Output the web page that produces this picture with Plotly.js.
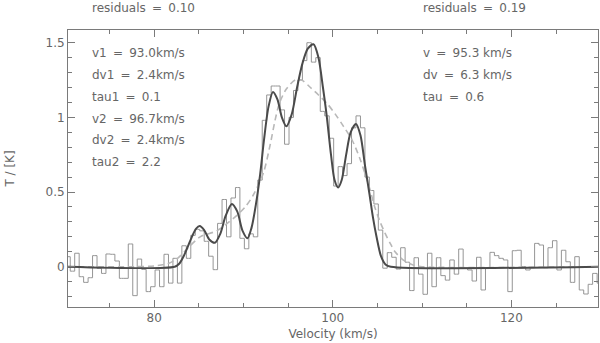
<!DOCTYPE html>
<html>
<head>
<meta charset="utf-8">
<script src="https://cdn.plot.ly/plotly-3.0.1.min.js"></script>
<style>
  html, body { margin: 0; padding: 0; background: #fff; }
  #chart { width: 600px; height: 343px; }
</style>
</head>
<body>
<div id="chart"></div>
<script>
// ---- data ----
// spectrum channels: first channel centre and channel width (km/s)
const velStart = 70.35;
const chanWidth = 0.5;
// observed brightness temperature per channel (K)
const tObs = [
  0.067, -0.03, 0.09, -0.067, -0.105, -0.074, 0.074, -0.011, -0.045, 0.085,
  0.083, 0.038, -0.078, -0.078, 0.152, -0.194, 0.051, -0.018, -0.167, -0.134,
  -0.022, -0.134, 0.083, -0.11, 0.056, -0.11, 0.14, 0.056, 0.21, 0.25,
  0.24, 0.17, 0.07, -0.02, 0.29, 0.45, 0.2, 0.46, 0.53, 0.19,
  0.12, 0.22, 0.2, 0.58, 0.98, 1.15, 1.21, 1.21, 1.05, 0.82,
  1.0, 1.18, 1.25, 1.38, 1.50, 1.37, 1.40, 1.04, 1.01, 0.86,
  0.54, 0.67, 0.61, 0.69, 0.93, 1.01, 0.93, 0.60, 0.51, 0.42,
  0.245, -0.01, 0.094, 0.063, -0.016, 0.127, 0.03, -0.16, 0.06, -0.05,
  -0.185, 0.09, -0.134, 0.06, -0.06, -0.09, 0.045, -0.05, 0.118, -0.01,
  -0.022, -0.096, 0.063, -0.156, -0.01, 0.096, 0.074, 0.056, 0.045, -0.167,
  0.107, 0.11, 0, -0.022, -0.007, 0.156, 0.145, -0.007, 0.127, 0.174,
  -0.022, 0.11, 0.033, -0.105, 0.067, -0.156, -0.183, -0.118, -0.045, -0.11
];

// two-component fit (solid curve)
const fit2Vel = [70.35, 82.3, 82.8, 83.3, 83.8, 84.3, 84.7, 85.1, 85.6, 86.2,
  86.8, 87.4, 88.0, 88.7, 89.3, 89.9, 90.45, 90.9, 91.4, 91.87,
  92.3, 92.8, 93.3, 93.8, 94.3, 94.8, 95.4, 96.0, 96.6, 97.2,
  97.84, 98.4, 98.9, 99.3, 99.8, 100.2, 100.6, 101.0, 101.5, 102.0,
  102.6, 103.1, 103.6, 104.1, 104.5, 104.9, 105.4, 105.9, 106.5, 129.7];
const fit2T = [0, 0, 0.02, 0.07, 0.14, 0.21, 0.255, 0.272, 0.245, 0.18,
  0.16, 0.22, 0.34, 0.42, 0.37, 0.24, 0.19, 0.26, 0.42, 0.62,
  0.85, 1.07, 1.17, 1.12, 1.0, 0.94, 1.02, 1.2, 1.36, 1.46,
  1.49, 1.40, 1.2, 1.02, 0.75, 0.58, 0.53, 0.58, 0.75, 0.9,
  0.956, 0.88, 0.68, 0.49, 0.33, 0.2, 0.07, 0.015, 0, 0];

// single-component fit (dashed curve)
const fit1Vel = [70.35, 78.0, 80.0, 81.5, 82.5, 83.7, 85.15, 87.0, 89.0, 90.2,
  91.1, 92.24, 93.0, 93.5, 94.0, 94.8, 95.8, 96.5, 97.5, 98.4,
  99.4, 100.3, 101.2, 102.15, 103.0, 103.6, 104.2, 104.7, 105.3, 105.85,
  106.4, 106.97, 108.0, 109.0, 110.0, 129.7];
const fit1T = [0, 0, 0.005, 0.02, 0.05, 0.12, 0.2, 0.24, 0.33, 0.4,
  0.48, 0.63, 0.82, 0.97, 1.09, 1.19, 1.25, 1.25, 1.2, 1.15,
  1.09, 1.02, 0.94, 0.85, 0.73, 0.625, 0.51, 0.40, 0.3, 0.225,
  0.16, 0.10, 0.04, 0.012, 0, 0];

const xTickVals = [80, 100, 120];
const yTickVals = [0, 0.5, 1, 1.5];
const yTickText = ['0', '0.5', '1', '1.5'];

const leftLabels = ['v1 = 93.0km/s', 'dv1 = 2.4km/s', 'tau1 = 0.1',
                    'v2 = 96.7km/s', 'dv2 = 2.4km/s', 'tau2 = 2.2'];
const rightLabels = ['v = 95.3 km/s', 'dv = 6.3 km/s', 'tau = 0.6'];
const residualLabels = ['residuals = 0.10', 'residuals = 0.19'];

// ---- build ----
const vel = tObs.map((_, i) => velStart + chanWidth * i);

const FONT = 'DejaVu Sans, Liberation Sans, sans-serif';
const TXT = '#666666';
const AX = '#7a7a7a';

const traces = [
  { x: vel, y: tObs, type: 'scatter', mode: 'lines',
    line: { shape: 'hvh', color: '#959595', width: 1 }, hoverinfo: 'skip' },
  { x: fit1Vel, y: fit1T, type: 'scatter', mode: 'lines',
    line: { shape: 'spline', smoothing: 0.8, color: '#b8b8b8', width: 1.6, dash: '6px,4px' },
    hoverinfo: 'skip' },
  { x: fit2Vel, y: fit2T, type: 'scatter', mode: 'lines',
    line: { shape: 'spline', smoothing: 0.8, color: '#4a4a4a', width: 2 },
    hoverinfo: 'skip' }
];

const nb = s => s.replace(/ = /g, '\u00a0\u2009=\u2009\u00a0');
const ann = [];
const plotL = 68, plotW = 530, plotT = 30, plotH = 277;
const px = p => (p - plotL) / plotW;
const py = p => (plotT + plotH - p) / plotH;
const leftY = [53, 75, 97, 118.5, 140, 162];
leftLabels.forEach((t, i) => ann.push({
  text: nb(t), xref: 'paper', yref: 'paper', x: px(90), y: py(leftY[i]),
  xanchor: 'left', yanchor: 'middle', showarrow: false,
  font: { family: FONT, size: 12, color: TXT }
}));
rightLabels.forEach((t, i) => ann.push({
  text: nb(t), xref: 'paper', yref: 'paper', x: px(421), y: py(leftY[i]),
  xanchor: 'left', yanchor: 'middle', showarrow: false,
  font: { family: FONT, size: 12, color: TXT }
}));
[90, 421].forEach((xp, i) => ann.push({
  text: nb(residualLabels[i]), xref: 'paper', yref: 'paper', x: px(xp), y: py(8),
  xanchor: 'left', yanchor: 'middle', showarrow: false,
  font: { family: FONT, size: 12, color: TXT }
}));

const layout = {
  width: 600, height: 343,
  margin: { l: 68, r: 2, t: 30, b: 36 },
  paper_bgcolor: '#fff', plot_bgcolor: '#fff',
  showlegend: false,
  font: { family: FONT, size: 12, color: TXT },
  xaxis: {
    range: [velStart, 129.7], showgrid: false, zeroline: false,
    showline: true, linecolor: AX, linewidth: 1, mirror: 'ticks',
    ticks: 'inside', ticklen: 7, tickcolor: AX, tickwidth: 1,
    tickvals: xTickVals, ticktext: xTickVals.map(String),
    tickfont: { family: FONT, size: 12, color: TXT },
    minor: { dtick: 5, tick0: 0, ticks: 'inside', ticklen: 4, tickcolor: AX, showgrid: false },
    title: { text: 'Velocity (km/s)', font: { family: FONT, size: 12, color: TXT }, standoff: 5 },
    automargin: false
  },
  yaxis: {
    range: [-0.27, 1.585], showgrid: false, zeroline: false,
    showline: true, linecolor: AX, linewidth: 1, mirror: 'ticks',
    ticks: 'inside', ticklen: 7, tickcolor: AX, tickwidth: 1,
    tickvals: yTickVals, ticktext: yTickText,
    tickfont: { family: FONT, size: 12, color: TXT },
    minor: { dtick: 0.1, tick0: 0, ticks: 'inside', ticklen: 4, tickcolor: AX, showgrid: false },
    title: { text: 'T / [K]', font: { family: FONT, size: 12, color: TXT }, standoff: 28 },
    automargin: false
  },
  annotations: ann
};

Plotly.newPlot('chart', traces, layout, { staticPlot: true, displayModeBar: false });
</script>
</body>
</html>
